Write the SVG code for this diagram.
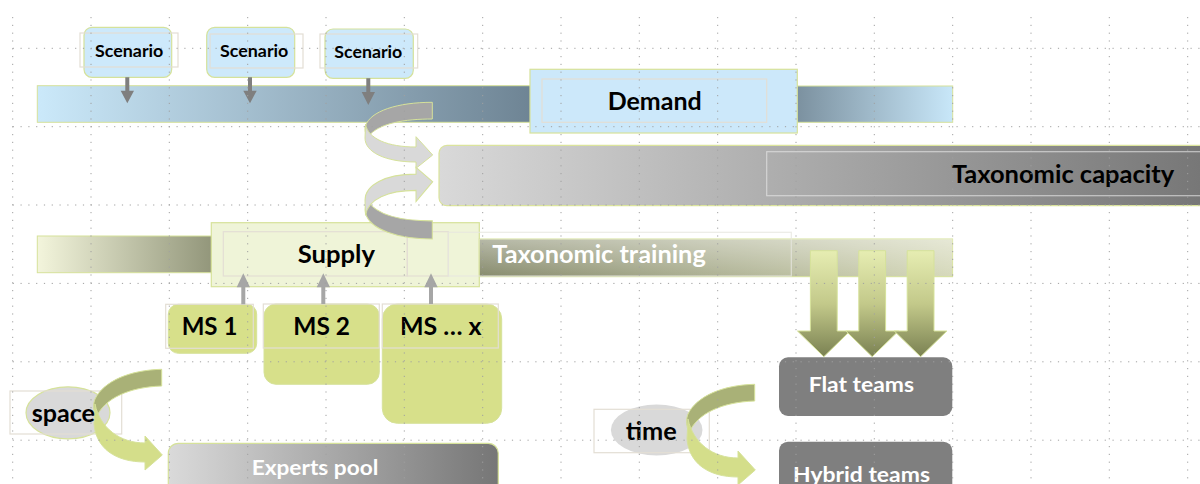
<svg xmlns="http://www.w3.org/2000/svg" width="1200" height="484" viewBox="0 0 1200 484">
<style>
.t{font-family:Lato,"Open Sans","Liberation Sans",sans-serif;font-weight:bold;text-anchor:middle}
.dk{fill:#000}
.wh{fill:#fff}
.faint{fill:none;stroke:#e3ded4;stroke-width:1.2}
.gl{stroke:#d6e29a;stroke-width:1}
.grid line{stroke:#a0a0a0;stroke-width:1;stroke-dasharray:1.2 6.6}
</style>
<defs>
<linearGradient id="gBlueL" x1="0" x2="1" y1="0" y2="0"><stop offset="0" stop-color="#cbe9fa"/><stop offset="1" stop-color="#6e8494"/></linearGradient>
<linearGradient id="gBlueR" x1="0" x2="1" y1="0" y2="0"><stop offset="0" stop-color="#6f8391"/><stop offset="1" stop-color="#c8e7f9"/></linearGradient>
<linearGradient id="gCap" x1="439" x2="1200" y1="0" y2="0" gradientUnits="userSpaceOnUse"><stop offset="0" stop-color="#d9d9d9"/><stop offset="1" stop-color="#777"/></linearGradient>
<linearGradient id="gSupL" x1="0" x2="1" y1="0" y2="0"><stop offset="0" stop-color="#f3f5dc"/><stop offset="1" stop-color="#878b6f"/></linearGradient>
<linearGradient id="gTrain" x1="0" x2="1" y1="0" y2="0"><stop offset="0" stop-color="#878b6d"/><stop offset="1" stop-color="#d6d9bb"/></linearGradient>
<linearGradient id="gTrainV" x1="0" x2="0" y1="0" y2="1"><stop offset="0" stop-color="#fff" stop-opacity="0.4"/><stop offset="1" stop-color="#fff" stop-opacity="0"/></linearGradient>
<linearGradient id="gExp" x1="0" x2="1" y1="0" y2="0"><stop offset="0" stop-color="#dadada"/><stop offset="1" stop-color="#767676"/></linearGradient>
<linearGradient id="gDown" x1="0" x2="0" y1="0" y2="1"><stop offset="0" stop-color="#e6edb2"/><stop offset="0.5" stop-color="#c3c98a"/><stop offset="1" stop-color="#7a8152"/></linearGradient>
<g id="greenCurve">
<path d="M161.7,369.3 L161.7,386 C130,387 104,398 96,418 C93,410 93,404 95,399 C104,381 130,370 161.7,369.3 Z" fill="#a9b177" class="gl"/>
<path d="M95,404 C100,428 120,443 145,443 L145,436 L162.3,455 L145,470 L145,462 C115,462 96,448 94,424 Z" fill="#d4de8a" class="gl"/>
</g>
<g id="grayCurve">
<path d="M432.3,102.3 L432.3,119 C405,119 378,123 368,137 C365,133 364.5,130 365.5,126 C370,111 398,102.3 432.3,102.3 Z" fill="#a6a6a6" class="gl"/>
<path d="M365.5,124 C368,139 388,147 416,147 L416,136.7 L432.7,155 L416,168.3 L416,162 C385,162 365,152 365,138 Z" fill="#d9d9d9" class="gl"/>
</g>
<path id="downArrow" d="M-13.4,0 L13.4,0 L13.4,80.3 L26.3,80.3 L0,106 L-26.3,80.3 L-13.4,80.3 Z" fill="url(#gDown)" stroke="#d6e29a" stroke-width="1"/>
</defs>

<g id="demand">
<rect x="37.3" y="85.7" width="494.7" height="36.6" fill="url(#gBlueL)" class="gl"/>
<rect x="772" y="86" width="180.7" height="36.3" fill="url(#gBlueR)" class="gl"/>
<rect x="530" y="69.3" width="267.3" height="63.7" fill="#cce8fa" stroke="#d6e29a" stroke-width="1.2"/>
<rect x="542" y="79" width="224.7" height="43.3" class="faint"/>
<text class="t dk" x="654.7" y="110" font-size="24.5" textLength="94" lengthAdjust="spacingAndGlyphs">Demand</text>
</g>

<g id="taxonomic-capacity">
<rect x="439" y="145.3" width="790" height="60.4" rx="8" fill="url(#gCap)" stroke="#dbe49c" stroke-width="1.2"/>
<rect x="766.7" y="151.7" width="450" height="44" fill="none" stroke="#e4e4e4" stroke-opacity="0.7" stroke-width="1.2"/>
<text class="t dk" x="1063" y="182.7" font-size="24.5" textLength="222.3" lengthAdjust="spacingAndGlyphs">Taxonomic capacity</text>
</g>

<g id="scenario-1">
<rect x="84" y="27.3" width="87.7" height="50" rx="8" fill="#cde9fb" stroke="#d5e29b" stroke-width="1.2"/>
<rect x="80" y="33" width="98" height="34" class="faint"/>
<text class="t dk" x="129.2" y="57.3" font-size="17" textLength="68.3" lengthAdjust="spacingAndGlyphs">Scenario</text>
</g>
<g id="scenario-2">
<rect x="206.7" y="27.3" width="88" height="50" rx="8" fill="#cde9fb" stroke="#d5e29b" stroke-width="1.2"/>
<rect x="210" y="34" width="93" height="34" class="faint"/>
<text class="t dk" x="254.2" y="57.3" font-size="17" textLength="68.3" lengthAdjust="spacingAndGlyphs">Scenario</text>
</g>
<g id="scenario-3">
<rect x="325" y="29" width="88.3" height="49.3" rx="8" fill="#cde9fb" stroke="#d5e29b" stroke-width="1.2"/>
<rect x="320" y="34" width="97.7" height="34" class="faint"/>
<text class="t dk" x="368.3" y="57.6" font-size="17" textLength="68" lengthAdjust="spacingAndGlyphs">Scenario</text>
</g>

<g id="supply">
<rect x="37.3" y="236" width="195.4" height="36.7" fill="url(#gSupL)" class="gl"/>
<rect x="211.3" y="222.7" width="268" height="64" fill="#eff4d8" stroke="#d6e29a" stroke-width="1.2"/>
<rect x="223.3" y="231.7" width="184" height="44.3" class="faint"/>
<rect x="407.3" y="231.7" width="41" height="44.3" class="faint"/>
<text class="t dk" x="336.3" y="263.3" font-size="24.5" textLength="77.3" lengthAdjust="spacingAndGlyphs">Supply</text>
</g>

<g id="taxonomic-training">
<rect x="479.3" y="239" width="473.3" height="37.7" fill="url(#gTrain)" class="gl"/>
<rect x="479.3" y="239" width="473.3" height="37.7" fill="url(#gTrainV)"/>
<rect x="448.3" y="232.3" width="343" height="43.7" fill="none" stroke="#e6e6e0" stroke-opacity="0.8" stroke-width="1.2"/>
<text class="t wh" x="599" y="263.3" font-size="24.5" textLength="213.5" lengthAdjust="spacingAndGlyphs">Taxonomic training</text>
</g>

<g id="ms-1">
<rect x="168.3" y="304.3" width="88.4" height="49" rx="10" fill="#d7e08a" stroke="#d6e29a"/>
<rect x="165.7" y="304.3" width="87.6" height="44" class="faint"/>
<text class="t dk" x="209.5" y="335" font-size="24.5" textLength="55.7" lengthAdjust="spacingAndGlyphs">MS 1</text>
</g>
<g id="ms-2">
<rect x="264" y="304" width="115.3" height="80.3" rx="12" fill="#d7e08a" stroke="#d6e29a"/>
<rect x="263.3" y="304" width="116" height="44" class="faint"/>
<text class="t dk" x="321.7" y="335" font-size="24.5" textLength="56.7" lengthAdjust="spacingAndGlyphs">MS 2</text>
</g>
<g id="ms-x">
<rect x="382.3" y="304" width="119.4" height="119.3" rx="15" fill="#d7e08a" stroke="#d6e29a"/>
<rect x="382.3" y="304" width="116" height="44" class="faint"/>
<text class="t dk" x="440.8" y="335" font-size="24.5" textLength="81.7" lengthAdjust="spacingAndGlyphs">MS … x</text>
</g>

<g id="experts-pool">
<rect x="168.3" y="443.3" width="330" height="60" rx="10" fill="url(#gExp)" stroke="#d6e29a" stroke-width="1.2"/>
<text class="t wh" x="315" y="475" font-size="20.7" textLength="126.7" lengthAdjust="spacingAndGlyphs">Experts pool</text>
</g>

<g id="flat-teams">
<rect x="779" y="357.3" width="173.3" height="58.7" rx="9" fill="#7f7f7f"/>
<text class="t wh" x="861.3" y="391.7" font-size="20" textLength="105.3" lengthAdjust="spacingAndGlyphs">Flat teams</text>
</g>
<g id="hybrid-teams">
<rect x="779" y="441.7" width="173.3" height="60" rx="9" fill="#7f7f7f"/>
<text class="t wh" x="861.5" y="482" font-size="20" textLength="137" lengthAdjust="spacingAndGlyphs">Hybrid teams</text>
</g>

<g id="space">
<ellipse cx="68" cy="412.8" rx="42" ry="26" fill="#d9d9d9" stroke="#d6e29a" stroke-width="1.2"/>
<rect x="10" y="391" width="111.7" height="43" class="faint"/>
</g>
<g id="time">
<ellipse cx="656.7" cy="430" rx="45.8" ry="25.5" fill="#d9d9d9"/>
<rect x="594" y="409.3" width="115.3" height="43.4" class="faint"/>
</g>

<g id="connectors">
<g fill="#7f7f7f">
<path d="M125.3,77.3 H129.3 V90.7 H134 L127.3,103.3 L120.7,90.7 H125.3 Z"/>
<path d="M248,77.3 H252 V90.7 H256.7 L250,103.3 L243.3,90.7 H248 Z"/>
<path d="M366.3,78.3 H370.3 V92 H375 L368.3,105 L361.7,92 H366.3 Z"/>
</g>
<g fill="#a6a6a6">
<path d="M241.3,304.3 H245.3 V287.3 H250 L243.3,273.3 L236.7,287.3 H241.3 Z"/>
<path d="M321.3,304 H325.3 V287.3 H330 L323.3,273.3 L316.7,287.3 H321.3 Z"/>
<path d="M429,304 H433 V287.3 H437.7 L431,273.3 L424.3,287.3 H429 Z"/>
</g>
<use href="#grayCurve"/>
<use href="#grayCurve" transform="matrix(1 0 0 -1.087 0 350.2)"/>
<use href="#downArrow" transform="translate(823.8,250.7)"/>
<use href="#downArrow" transform="translate(872.2,250.7)"/>
<use href="#downArrow" transform="translate(920.6,250.7)"/>
<use href="#greenCurve"/>
<use href="#greenCurve" transform="translate(593,15)"/>
</g>

<g id="labels">
<text class="t dk" x="63.3" y="421.7" font-size="24.5" textLength="63.3" lengthAdjust="spacingAndGlyphs">space</text>
<text class="t dk" x="651.2" y="440" font-size="24.5" textLength="51" lengthAdjust="spacingAndGlyphs">time</text>
</g>

<g class="grid" id="grid">
<line x1="12.7" y1="48.3" x2="1200" y2="48.3"/>
<line x1="12.7" y1="126.7" x2="1200" y2="126.7"/>
<line x1="12.7" y1="205" x2="1200" y2="205"/>
<line x1="12.7" y1="283.4" x2="1200" y2="283.4"/>
<line x1="12.7" y1="361.8" x2="1200" y2="361.8"/>
<line x1="12.7" y1="440.2" x2="1200" y2="440.2"/>
<line x1="12.7" y1="17" x2="12.7" y2="484"/>
<line x1="91" y1="17" x2="91" y2="484"/>
<line x1="169.3" y1="17" x2="169.3" y2="484"/>
<line x1="247.7" y1="17" x2="247.7" y2="484"/>
<line x1="326" y1="17" x2="326" y2="484"/>
<line x1="404.3" y1="17" x2="404.3" y2="484"/>
<line x1="482.7" y1="17" x2="482.7" y2="484"/>
<line x1="561" y1="17" x2="561" y2="484"/>
<line x1="639.3" y1="17" x2="639.3" y2="484"/>
<line x1="717.7" y1="17" x2="717.7" y2="484"/>
<line x1="796" y1="17" x2="796" y2="484"/>
<line x1="874.3" y1="17" x2="874.3" y2="484"/>
<line x1="952.7" y1="17" x2="952.7" y2="484"/>
<line x1="1031" y1="17" x2="1031" y2="484"/>
<line x1="1109.3" y1="17" x2="1109.3" y2="484"/>
<line x1="1187.7" y1="17" x2="1187.7" y2="484"/>
</g>
</svg>
